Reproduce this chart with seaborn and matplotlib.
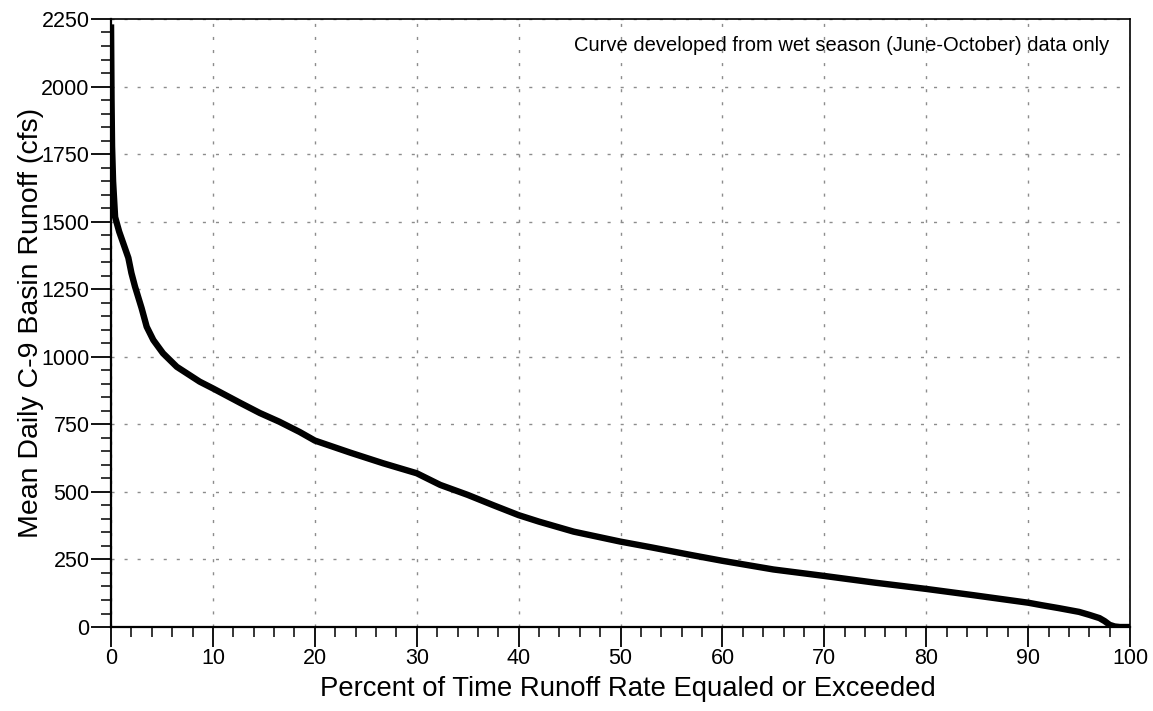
import matplotlib
matplotlib.use("Agg")
import matplotlib.pyplot as plt
import seaborn as sns
import pandas as pd
from matplotlib.ticker import MultipleLocator

# percent of time exceeded vs mean daily runoff (cfs)
pct_exceeded = [0.0, 0.05, 0.1, 0.2, 0.4, 0.8, 1.2, 1.7, 2.0, 2.35, 3.0, 3.5, 4.15,
                5.1, 6.45, 8.7, 10.0, 12.7, 14.6, 16.5, 18.5, 20, 23.5, 26.7, 30, 32.3,
                35, 37.5, 40, 42, 45.4, 50, 53, 57, 60, 65, 70, 75, 80, 84.6, 90, 91.3,
                93, 95, 96, 97, 97.5, 98, 98.5, 99, 100]
runoff_cfs = [2230, 1950, 1780, 1650, 1517, 1463, 1420, 1366, 1310, 1260, 1180, 1111, 1062,
              1013, 963, 908, 883, 829, 792, 760, 722, 690, 645, 606, 569, 526,
              489, 451, 414, 390, 353, 316, 295, 266, 245, 213, 189, 164, 141, 118, 90, 81,
              70, 56, 45, 33, 22, 8, 2, 0, 0]

note = "Curve developed from wet season (June-October) data only"

sns.set_theme(style="white", rc={'text.color': 'black', 'axes.labelcolor': 'black',
                                 'xtick.color': 'black', 'ytick.color': 'black'})
plt.rcParams['font.family'] = ['Liberation Sans', 'DejaVu Sans']

df = pd.DataFrame({'pct': pct_exceeded, 'cfs': runoff_cfs})

fig = plt.figure(figsize=(11.53, 7.11), dpi=100)
ax = fig.add_axes([0.0963, 0.1181, 0.8838, 0.8552])

sns.lineplot(data=df, x='pct', y='cfs', ax=ax, color='black', linewidth=4.6,
             solid_joinstyle='round', solid_capstyle='butt')

ax.set_xlim(0, 100)
ax.set_ylim(0, 2250)
ax.xaxis.set_major_locator(MultipleLocator(10))
ax.xaxis.set_minor_locator(MultipleLocator(2))
ax.yaxis.set_major_locator(MultipleLocator(250))
ax.yaxis.set_minor_locator(MultipleLocator(50))

ax.grid(True, which='major', color='#8c8c8c', linestyle=(0, (2.2, 7.2)), linewidth=1.0)
ax.tick_params(which='major', direction='out', length=14.4, width=1.3, color='black',
               labelsize=15.5, pad=1, bottom=True, left=True)
ax.tick_params(which='minor', direction='out', length=7.2, width=1.1, color='black',
               bottom=True, left=True)

for side in ['top', 'right']:
    ax.spines[side].set_color('black')
    ax.spines[side].set_linewidth(1.2)
for side in ['bottom', 'left']:
    ax.spines[side].set_color('black')
    ax.spines[side].set_linewidth(1.6)

ax.set_xlabel('Percent of Time Runoff Rate Equaled or Exceeded', fontsize=19.8)
ax.set_ylabel('Mean Daily C-9 Basin Runoff (cfs)', fontsize=20.5)
ax.xaxis.set_label_coords(0.507, -0.080)
ax.yaxis.set_label_coords(-0.0655, 0.50)

ax.text(0.98, 0.972, note, transform=ax.transAxes, ha='right', va='top', fontsize=14.5)

fig.savefig('out.png', dpi=100)
